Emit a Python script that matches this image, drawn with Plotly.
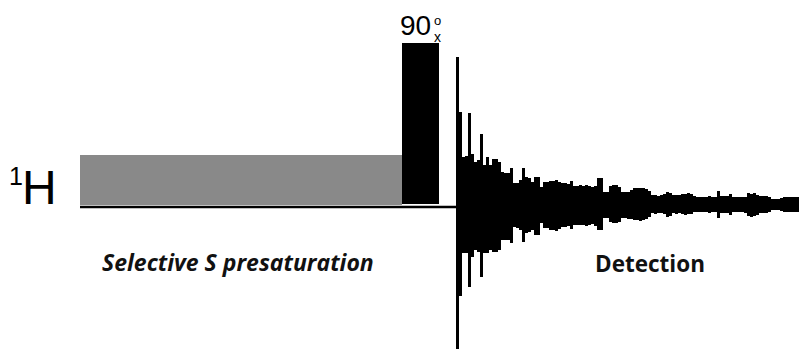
import plotly.graph_objects as go

# ---- pulse sequence data (time axis in arbitrary units, amplitude relative to baseline) ----
seq_start = 80          # start of the 1H channel line
presat_start = 80       # selective S presaturation block
presat_end = 402
presat_amp = 52
pulse_start = 402       # 90x hard pulse
pulse_end = 439
pulse_amp = 164
acq_start = 457         # detection starts

# FID envelope: upper and lower excursion of each sampled point
fid_upper = [150, 95, 50, 51, 94, 53, 45, 47, 73, 42, 50, 42, 48, 48, 45, 35, 34, 34, 39, 24,
             24, 27, 39, 30, 29, 25, 30, 30, 20, 25, 25, 26, 26, 27, 25, 24, 24, 23, 26, 21,
             21, 22, 21, 22, 21, 20, 21, 29, 29, 15, 15, 21, 22, 22, 20, 15, 15, 15, 17, 19,
             19, 19, 19, 18, 16, 12, 12, 11, 12, 13, 15, 14, 12, 12, 12, 13, 13, 14, 13, 11,
             10, 10, 10, 10, 11, 10, 10, 16, 11, 11, 11, 13, 10, 10, 10, 10, 10, 14, 13, 14,
             12, 11, 11, 11, 10, 8, 8, 8, 9, 10, 10, 10, 10, 10, 10, 10, 10, 10]
fid_lower = [142, 89, 46, 46, 80, 50, 43, 45, 70, 46, 46, 43, 45, 45, 43, 33, 33, 33, 36, 20,
             21, 23, 35, 26, 25, 23, 28, 28, 16, 21, 21, 23, 23, 24, 22, 20, 20, 19, 22, 18,
             18, 18, 18, 19, 18, 17, 19, 23, 23, 11, 11, 15, 16, 16, 15, 11, 11, 12, 12, 13,
             13, 14, 13, 12, 10, 6, 7, 6, 6, 7, 10, 9, 6, 7, 6, 7, 8, 7, 7, 5,
             5, 5, 5, 5, 6, 5, 5, 11, 6, 6, 6, 8, 5, 5, 5, 5, 6, 9, 10, 9,
             8, 6, 6, 6, 5, 3, 3, 3, 4, 5, 5, 5, 5, 5, 5, 5, 5, 5]
fid_step = 3
fid_time = [acq_start + fid_step * i for i in range(len(fid_upper))]

label_presat = "Selective S presaturation"
label_detect = "Detection"

fig = go.Figure()

fig.add_trace(go.Bar(
    x=fid_time,
    y=[u + d for u, d in zip(fid_upper, fid_lower)],
    base=[-d for d in fid_lower],
    width=3.0,
    marker=dict(color="black", line=dict(width=0)),
    hoverinfo="skip",
    showlegend=False,
))

# presaturation block (grey) and 90 pulse (black)
fig.add_shape(type="rect", xref="x", yref="y", x0=presat_start, x1=presat_end,
              y0=2, y1=presat_amp, fillcolor="#898989", line=dict(width=0), layer="below")
fig.add_shape(type="rect", xref="x", yref="y", x0=pulse_start, x1=pulse_end,
              y0=3, y1=pulse_amp, fillcolor="black", line=dict(width=0), layer="below")
# channel baseline
fig.add_shape(type="line", xref="x", yref="y", x0=seq_start, x1=acq_start, y0=0, y1=0,
              line=dict(color="black", width=2.5))

base_font = "Liberation Sans"
ann = [
    dict(text="1", x=15.5, y=31, size=25),
    dict(text="H", x=39.5, y=19.5, size=48),
    dict(text="90", x=415.5, y=182, size=28),
    dict(text="o", x=437, y=186.5, size=13),
    dict(text="x", x=437, y=170, size=14),
]
for a in ann:
    fig.add_annotation(text=a["text"], x=a["x"], y=a["y"], xref="x", yref="y",
                       showarrow=False, xanchor="center", yanchor="middle",
                       font=dict(family=base_font, size=a["size"], color="black"))

fig.add_annotation(text="<b><i>" + label_presat + "</i></b>", x=237.5, y=-55, xref="x", yref="y",
                   showarrow=False, xanchor="center", yanchor="middle",
                   font=dict(family="Open Sans", size=23, color="#111111"))
fig.add_annotation(text="<b>" + label_detect + "</b>", x=650, y=-56, xref="x", yref="y",
                   showarrow=False, xanchor="center", yanchor="middle",
                   font=dict(family="Open Sans", size=22.5, color="#111111"))

# the page body has an 8px margin, so the plot starts 8px in from the window edge
fig.update_layout(
    width=799, height=341,
    margin=dict(l=0, r=0, t=0, b=0),
    paper_bgcolor="white", plot_bgcolor="white",
    xaxis=dict(range=[8, 807], visible=False, fixedrange=True),
    yaxis=dict(range=[-142, 199], visible=False, fixedrange=True),
    bargap=0,
)

fig.write_html("out.html")
